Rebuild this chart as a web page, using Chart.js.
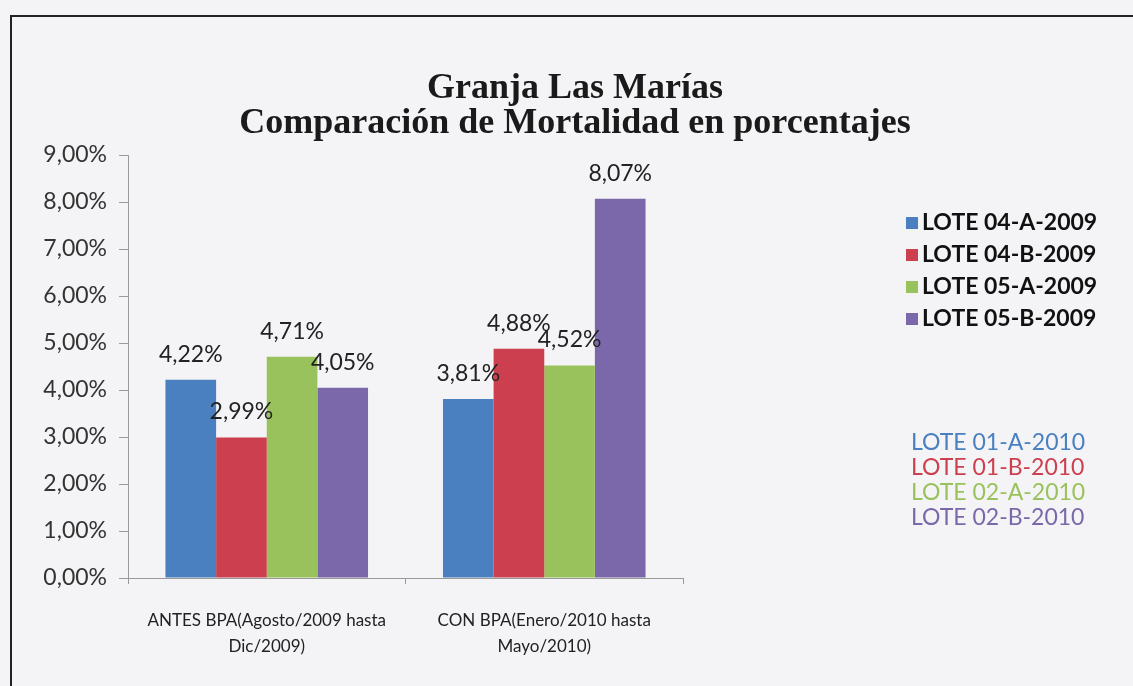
<!DOCTYPE html>
<html>
<head>
<meta charset="utf-8">
<script src="https://cdn.jsdelivr.net/npm/chart.js@4"></script>
<style>
  html, body { margin: 0; padding: 0; background: #f4f4f6; }
  #wrap { width: 1133px; height: 686px; position: relative; }
</style>
</head>
<body>
<div id="wrap"><canvas id="chart" width="1133" height="686"></canvas></div>
<script>
// data
const categories = [
  ['ANTES BPA(Agosto/2009 hasta', 'Dic/2009)'],
  ['CON BPA(Enero/2010 hasta', 'Mayo/2010)']
];
const seriesNames = ['LOTE 04-A-2009', 'LOTE 04-B-2009', 'LOTE 05-A-2009', 'LOTE 05-B-2009'];
const lote04A = [4.22, 3.81];
const lote04B = [2.99, 4.88];
const lote05A = [4.71, 4.52];
const lote05B = [4.05, 8.07];
const notes2010 = ['LOTE 01-A-2010', 'LOTE 01-B-2010', 'LOTE 02-A-2010', 'LOTE 02-B-2010'];
const titleLines = ['Granja Las Marías', 'Comparación de Mortalidad en porcentajes'];

const colors = ['#4a80c0', '#cc3f4e', '#9ac25c', '#7b68aa'];
const textFont = 'Lato, "Liberation Sans", sans-serif';

const fmt = (v) => v.toFixed(2).replace('.', ',') + '%';

// title, frame, value labels and the legend on the right
const decor = {
  id: 'decor',
  beforeDraw(chart) {
    const ctx = chart.ctx;
    ctx.save();
    ctx.fillStyle = '#f4f4f6';
    ctx.fillRect(0, 0, chart.width, chart.height);
    ctx.strokeStyle = '#222';
    ctx.lineWidth = 2;
    ctx.beginPath();
    ctx.moveTo(11, chart.height);
    ctx.lineTo(11, 16);
    ctx.lineTo(chart.width, 16);
    ctx.stroke();
    ctx.restore();
  },
  afterDraw(chart) {
    const ctx = chart.ctx;
    ctx.save();
    // title
    ctx.fillStyle = '#1a1a1a';
    ctx.textAlign = 'center';
    ctx.textBaseline = 'middle';
    ctx.font = 'bold 36px "Liberation Serif", serif';
    ctx.fillText(titleLines[0], 575, 89);
    ctx.fillText(titleLines[1], 575, 124);

    // value labels
    ctx.font = '23px ' + textFont;
    ctx.fillStyle = '#222';
    ctx.textBaseline = 'bottom';
    chart.data.datasets.forEach((ds, i) => {
      chart.getDatasetMeta(i).data.forEach((bar, j) => {
        ctx.fillText(fmt(ds.data[j]), bar.x, bar.y - 14);
      });
    });

    // legend
    ctx.textAlign = 'left';
    ctx.textBaseline = 'middle';
    ctx.font = 'bold 23px ' + textFont;
    seriesNames.forEach((name, i) => {
      const y = 223 + i * 32;
      ctx.fillStyle = colors[i];
      ctx.fillRect(906, y - 6, 12, 12);
      ctx.fillStyle = '#111';
      ctx.fillText(name, 922, y);
    });
    ctx.font = '23px ' + textFont;
    notes2010.forEach((name, i) => {
      ctx.fillStyle = colors[i];
      ctx.fillText(name, 911, 443 + i * 25);
    });
    ctx.restore();
  }
};

new Chart(document.getElementById('chart'), {
  type: 'bar',
  data: {
    labels: categories,
    datasets: [
      { label: seriesNames[0], data: lote04A, backgroundColor: colors[0] },
      { label: seriesNames[1], data: lote04B, backgroundColor: colors[1] },
      { label: seriesNames[2], data: lote05A, backgroundColor: colors[2] },
      { label: seriesNames[3], data: lote05B, backgroundColor: colors[3] }
    ]
  },
  options: {
    responsive: false,
    animation: false,
    layout: { padding: { left: 0, right: 450, top: 155, bottom: 0 } },
    datasets: { bar: { categoryPercentage: 0.73, barPercentage: 1.0 } },
    plugins: {
      legend: { display: false },
      title: { display: false },
      tooltip: { enabled: false }
    },
    scales: {
      x: {
        grid: { drawOnChartArea: false, drawTicks: true, tickLength: 6, color: '#999' },
        border: { color: '#999' },
        ticks: { color: '#222', font: { family: textFont, size: 17, lineHeight: 1.5 }, padding: 24, maxRotation: 0 },
        afterFit(scale) { scale.height = 108; }
      },
      y: {
        min: 0,
        max: 9,
        ticks: {
          stepSize: 1,
          color: '#333',
          font: { family: textFont, size: 23 },
          padding: 12,
          callback: (v) => fmt(v)
        },
        grid: { drawOnChartArea: false, drawTicks: true, tickLength: 9, color: '#999' },
        border: { color: '#999' },
        afterFit(scale) { scale.width = 128; }
      }
    }
  },
  plugins: [decor]
});
</script>
</body>
</html>
